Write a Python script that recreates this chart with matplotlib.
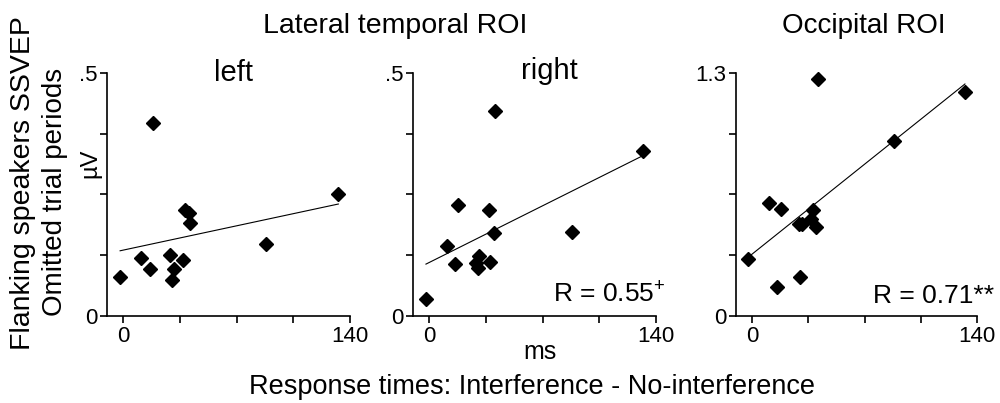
import numpy as np
import matplotlib
matplotlib.use('Agg')
import matplotlib.pyplot as plt

plt.rcParams['font.family'] = ['Liberation Sans', 'DejaVu Sans']
plt.rcParams['mathtext.fontset'] = 'custom'
plt.rcParams['mathtext.rm'] = 'Liberation Sans'
plt.rcParams['mathtext.it'] = 'Liberation Sans:italic'

# response time differences (ms) and SSVEP amplitudes (uV)
left_rt = [-1.9, 18.2, 132.8, 38.4, 40.5, 41.5, 88.0, 11.2, 16.3, 29.1, 31.2, 30.2, 37.0]
left_amp = [0.081, 0.398, 0.251, 0.219, 0.211, 0.192, 0.148, 0.119, 0.096, 0.126, 0.097, 0.074, 0.115]

right_rt = [40.9, 131.8, 18.0, 37.2, 39.8, 88.2, 10.7, 15.9, 30.5, 28.9, 29.9, 37.8, -2.0]
right_amp = [0.422, 0.340, 0.228, 0.218, 0.171, 0.172, 0.144, 0.106, 0.123, 0.108, 0.098, 0.112, 0.034]

occ_rt = [41.1, 132.5, 88.5, 10.4, 18.1, 37.8, 36.9, 29.0, 31.1, 39.8, -2.7, 29.9, 15.3]
occ_amp = [1.266, 1.198, 0.938, 0.603, 0.571, 0.567, 0.517, 0.491, 0.491, 0.475, 0.303, 0.210, 0.157]

x_ticks = [0, 35, 70, 105, 140]
x_ticklabels = ['0', '', '', '', '140']

fig = plt.figure(figsize=(10, 4.03), dpi=100)


def scatter_panel(rect, rt, amp, ymax, ymax_label):
    ax = fig.add_axes(rect)
    ax.plot(rt, amp, 'kD', ms=7, clip_on=False, zorder=3)
    slope, icpt = np.polyfit(rt, amp, 1)
    xs = np.array([min(rt), max(rt)])
    ax.plot(xs, slope * xs + icpt, color='k', lw=0.8)
    ax.set_xlim(-10, 140)
    ax.set_ylim(0, ymax)
    ax.set_xticks(x_ticks)
    ax.set_xticklabels(x_ticklabels)
    ax.set_yticks(np.linspace(0, ymax, 5))
    ax.set_yticklabels(['0', '', '', '', ymax_label])
    for s in ['top', 'right']:
        ax.spines[s].set_visible(False)
    for s in ['left', 'bottom']:
        ax.spines[s].set_linewidth(1.2)
    ax.tick_params(labelsize=16, length=5, width=1.2, pad=2)
    return ax


ax1 = scatter_panel([0.107, 0.216, 0.243, 0.603], left_rt, left_amp, 0.5, '.5')
ax2 = scatter_panel([0.413, 0.216, 0.243, 0.603], right_rt, right_amp, 0.5, '.5')
ax3 = scatter_panel([0.736, 0.216, 0.241, 0.603], occ_rt, occ_amp, 1.3, '1.3')

ax1.text(0.52, 1.0, 'left', transform=ax1.transAxes, ha='center', va='center', fontsize=21)
ax2.text(0.56, 1.01, 'right', transform=ax2.transAxes, ha='center', va='center', fontsize=21)
ax2.text(1.04, 0.055, r'R = 0.55$^{+}$', transform=ax2.transAxes, ha='right', va='baseline', fontsize=19)
ax3.text(1.07, 0.055, 'R = 0.71**', transform=ax3.transAxes, ha='right', va='baseline', fontsize=19)

fig.text(0.395, 0.935, 'Lateral temporal ROI', ha='center', va='center', fontsize=20.5)
fig.text(0.864, 0.935, 'Occipital ROI', ha='center', va='center', fontsize=20)
fig.text(0.54, 0.127, 'ms', ha='center', va='center', fontsize=18)
fig.text(0.532, 0.04, 'Response times: Interference - No-interference', ha='center', va='center', fontsize=19.5)

fig.text(0.023, 0.545, 'Flanking speakers SSVEP', rotation=90, ha='center', va='center', fontsize=20.5)
fig.text(0.055, 0.523, 'Omitted trial periods', rotation=90, ha='center', va='center', fontsize=20)
fig.text(0.09, 0.595, 'µV', rotation=90, ha='center', va='center', fontsize=17)

fig.savefig('out.png', dpi=100)
